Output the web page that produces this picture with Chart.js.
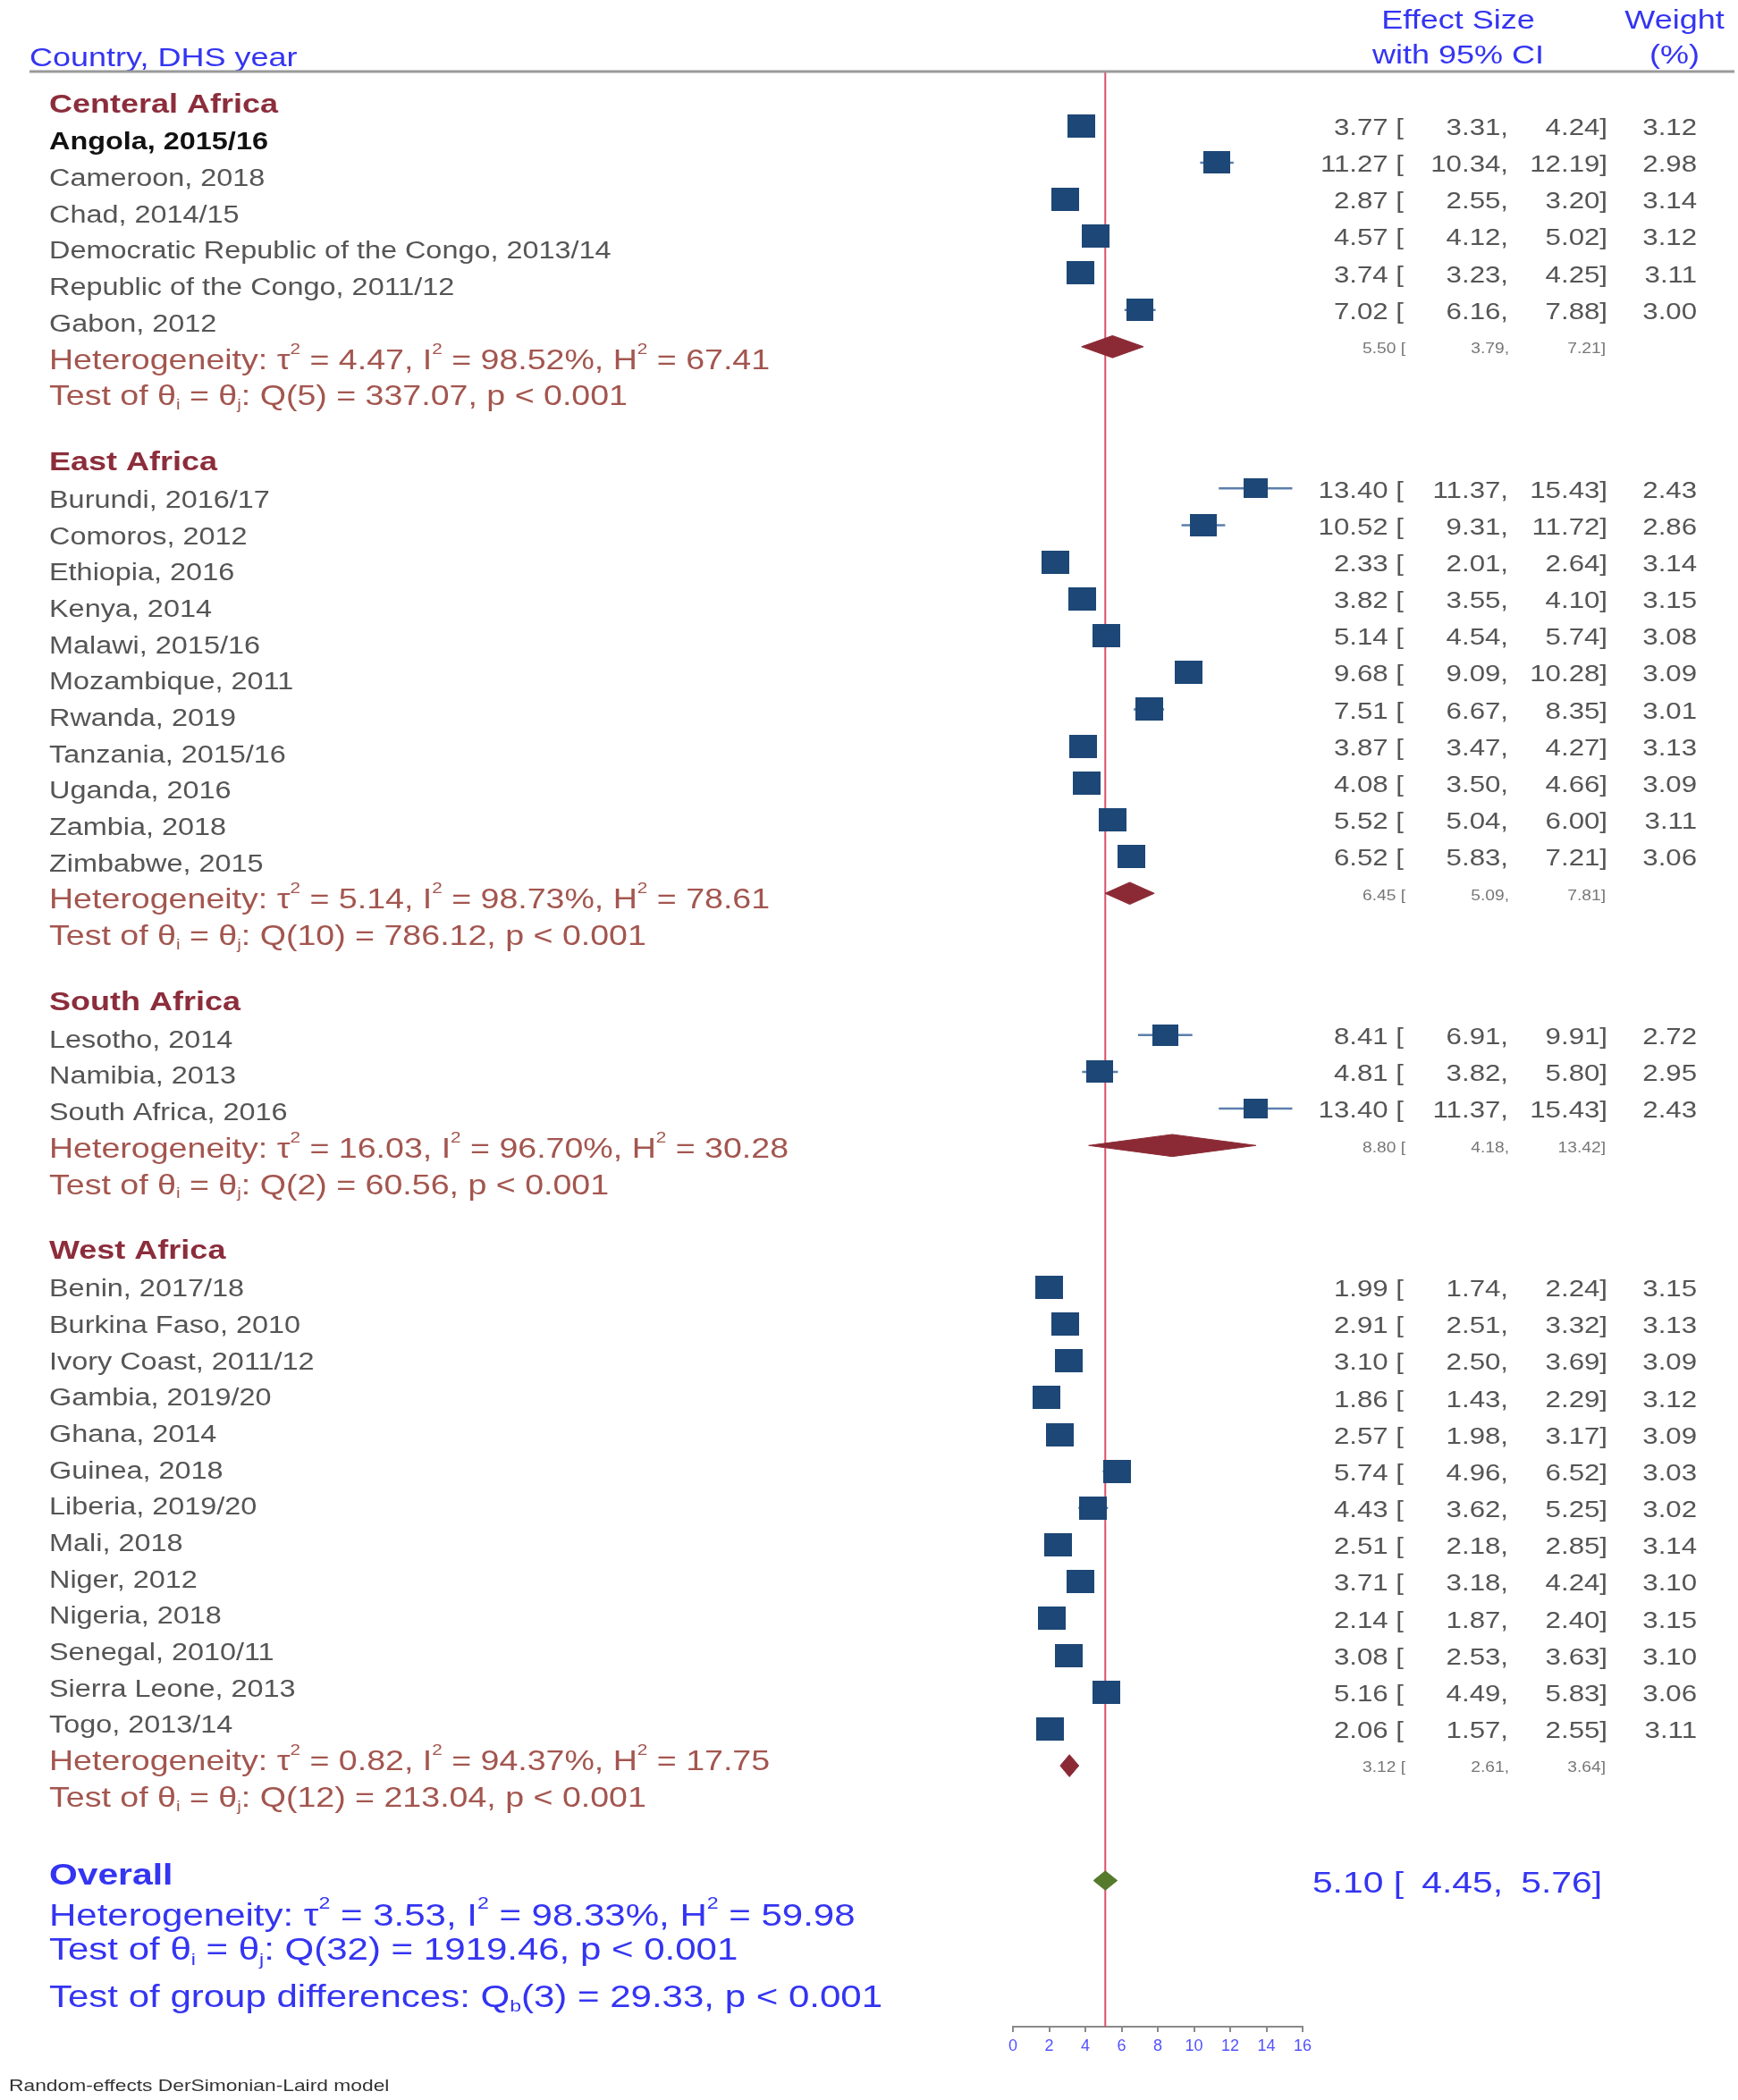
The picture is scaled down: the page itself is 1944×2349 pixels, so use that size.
<!DOCTYPE html>
<html><head><meta charset="utf-8">
<script src="https://cdn.jsdelivr.net/npm/chart.js@4.4.1/dist/chart.umd.min.js"></script>
<style>html,body{margin:0;padding:0;background:#fff;overflow:hidden}canvas{display:block}</style>
</head><body>
<canvas id="c" width="1944" height="2349" style="width:1944px;height:2349px"></canvas>
<script>
// ---------------- data ----------------
const groupNames = ['Centeral Africa', 'East Africa', 'South Africa', 'West Africa'];

const centralLabels = ['Angola, 2015/16', 'Cameroon, 2018', 'Chad, 2014/15', 'Democratic Republic of the Congo, 2013/14', 'Republic of the Congo, 2011/12', 'Gabon, 2012'];
const centralES = [3.77, 11.27, 2.87, 4.57, 3.74, 7.02];
const centralLo = [3.31, 10.34, 2.55, 4.12, 3.23, 6.16];
const centralHi = [4.24, 12.19, 3.20, 5.02, 4.25, 7.88];
const centralW  = [3.12, 2.98, 3.14, 3.12, 3.11, 3.00];

const eastLabels = ['Burundi, 2016/17', 'Comoros, 2012', 'Ethiopia, 2016', 'Kenya, 2014', 'Malawi, 2015/16', 'Mozambique, 2011', 'Rwanda, 2019', 'Tanzania, 2015/16', 'Uganda, 2016', 'Zambia, 2018', 'Zimbabwe, 2015'];
const eastES = [13.40, 10.52, 2.33, 3.82, 5.14, 9.68, 7.51, 3.87, 4.08, 5.52, 6.52];
const eastLo = [11.37, 9.31, 2.01, 3.55, 4.54, 9.09, 6.67, 3.47, 3.50, 5.04, 5.83];
const eastHi = [15.43, 11.72, 2.64, 4.10, 5.74, 10.28, 8.35, 4.27, 4.66, 6.00, 7.21];
const eastW  = [2.43, 2.86, 3.14, 3.15, 3.08, 3.09, 3.01, 3.13, 3.09, 3.11, 3.06];

const southLabels = ['Lesotho, 2014', 'Namibia, 2013', 'South Africa, 2016'];
const southES = [8.41, 4.81, 13.40];
const southLo = [6.91, 3.82, 11.37];
const southHi = [9.91, 5.80, 15.43];
const southW  = [2.72, 2.95, 2.43];

const westLabels = ['Benin, 2017/18', 'Burkina Faso, 2010', 'Ivory Coast, 2011/12', 'Gambia, 2019/20', 'Ghana, 2014', 'Guinea, 2018', 'Liberia, 2019/20', 'Mali, 2018', 'Niger, 2012', 'Nigeria, 2018', 'Senegal, 2010/11', 'Sierra Leone, 2013', 'Togo, 2013/14'];
const westES = [1.99, 2.91, 3.10, 1.86, 2.57, 5.74, 4.43, 2.51, 3.71, 2.14, 3.08, 5.16, 2.06];
const westLo = [1.74, 2.51, 2.50, 1.43, 1.98, 4.96, 3.62, 2.18, 3.18, 1.87, 2.53, 4.49, 1.57];
const westHi = [2.24, 3.32, 3.69, 2.29, 3.17, 6.52, 5.25, 2.85, 4.24, 2.40, 3.63, 5.83, 2.55];
const westW  = [3.15, 3.13, 3.09, 3.12, 3.09, 3.03, 3.02, 3.14, 3.10, 3.15, 3.10, 3.06, 3.11];

const groupES   = [5.50, 6.45, 8.80, 3.12];
const groupLo   = [3.79, 5.09, 4.18, 2.61];
const groupHi   = [7.21, 7.81, 13.42, 3.64];
const groupTau2 = [4.47, 5.14, 16.03, 0.82];
const groupI2   = [98.52, 98.73, 96.70, 94.37];
const groupH2   = [67.41, 78.61, 30.28, 17.75];
const groupQdf  = [5, 10, 2, 12];
const groupQ    = [337.07, 786.12, 60.56, 213.04];

const overallES = 5.10, overallLo = 4.45, overallHi = 5.76;
const overallTau2 = 3.53, overallI2 = 98.33, overallH2 = 59.98;
const overallQdf = 32, overallQ = 1919.46;
const diffDf = 3, diffQ = 29.33;

const xTickMin = 0, xTickMax = 16, xTickStep = 2;

// ---------------- build ----------------
const groups = [
  {labels: centralLabels, es: centralES, lo: centralLo, hi: centralHi, w: centralW},
  {labels: eastLabels, es: eastES, lo: eastLo, hi: eastHi, w: eastW},
  {labels: southLabels, es: southES, lo: southLo, hi: southHi, w: southW},
  {labels: westLabels, es: westES, lo: westLo, hi: westHi, w: westW}
];
// row layout (row units)
let u = -1.05;
groups.forEach((g, gi) => {
  g.name = groupNames[gi];
  g.headerU = u; u += 1.05;
  g.rowU = g.labels.map((_, i) => u + i);
  u += g.labels.length;
  g.diamondU = u; u += 1;
  g.testU = u; u += 1.8;
});
const overallU = groups[3].testU + 2.12;
const overallHetU = overallU + 1.13;
const overallTestU = overallHetU + 0.95;
const diffU = overallTestU + 1.29;
const Y_MIN = -1.476, Y_MAX = 51.64;

const f2 = v => v.toFixed(2);
function squareImg(w) {
  const W = Math.round(17.6 * Math.sqrt(w)), H = Math.round(W * 0.83);
  const c = document.createElement('canvas'); c.width = W; c.height = H;
  const g = c.getContext('2d'); g.fillStyle = '#1d4776'; g.fillRect(0, 0, W, H);
  return c;
}

const ciData = [], sqData = [], sqImgs = [];
groups.forEach(g => {
  g.es.forEach((v, i) => {
    ciData.push({x: g.lo[i], y: g.rowU[i]}, {x: g.hi[i], y: g.rowU[i]}, {x: g.hi[i], y: null});
    sqData.push({x: v, y: g.rowU[i]});
    sqImgs.push(squareImg(g.w[i]));
  });
});
function diamond(es, lo, hi, yU, h) {
  return [{x: lo, y: yU}, {x: es, y: yU - h}, {x: hi, y: yU}, {x: es, y: yU + h}, {x: lo, y: yU}];
}
const datasets = [];
datasets.push({label: 'ref', data: [{x: overallES, y: Y_MIN}, {x: overallES, y: Y_MAX}], borderColor: '#d9506b', borderWidth: 2, pointRadius: 0, order: 10, clip: false});
datasets.push({label: 'ci', data: ciData, borderColor: '#5b7fad', borderWidth: 2.5, pointRadius: 0, spanGaps: false, order: 2});
datasets.push({label: 'es', data: sqData, showLine: false, pointStyle: ctx => sqImgs[ctx.dataIndex], pointRadius: 14, order: 1});
groups.forEach((g, gi) => {
  datasets.push({label: 'sub' + gi, data: diamond(groupES[gi], groupLo[gi], groupHi[gi], g.diamondU, 0.3), borderColor: '#8b2a35', backgroundColor: '#8b2a35', borderWidth: 1, pointRadius: 0, fill: 'shape', order: 1});
});
datasets.push({label: 'overall', data: diamond(overallES, overallLo, overallHi, overallU, 0.26), borderColor: '#557a2c', backgroundColor: '#557a2c', borderWidth: 1, pointRadius: 0, fill: 'shape', order: 1});

// ---------------- text helpers ----------------
const FAM = '"Liberation Sans", Arial, Helvetica, sans-serif';
const SX = 1.2;
function parts(str) { return str.split(/(\^\{[^}]*\}|_\{[^}]*\})/).filter(s => s.length); }
function rich(ctx, str, x, y, size, color, bold, align) {
  const ps = parts(str).map(p => {
    if (p.startsWith('^{')) return {t: p.slice(2, -1), fs: size * 0.55, dy: -size * 0.42};
    if (p.startsWith('_{')) return {t: p.slice(2, -1), fs: size * 0.55, dy: size * 0.28};
    return {t: p, fs: size, dy: 0};
  });
  ctx.save();
  let total = 0;
  ps.forEach(p => { ctx.font = (bold ? 'bold ' : '') + p.fs + 'px ' + FAM; p.w = ctx.measureText(p.t).width; total += p.w; });
  ctx.translate(x, y); ctx.scale(SX, 1);
  ctx.fillStyle = color; ctx.textBaseline = 'middle'; ctx.textAlign = 'left';
  let cx = align === 'right' ? -total : (align === 'center' ? -total / 2 : 0);
  ps.forEach(p => { ctx.font = (bold ? 'bold ' : '') + p.fs + 'px ' + FAM; ctx.fillText(p.t, cx, p.dy); cx += p.w; });
  ctx.restore();
}

const BLUE = '#3434f2', HEADRED = '#8c2d3b', HETRED = '#a3564f', GRAY = '#555555';
const textPlugin = {
  id: 'forestText',
  afterDraw(chart) {
    const ctx = chart.ctx, ys = chart.scales.y;
    const py = v => ys.getPixelForValue(v) + 3;
    const ly = v => 21 + 0.9875 * ys.getPixelForValue(v);
    // header
    rich(ctx, 'Country, DHS year', 33, 66, 30, BLUE, false, 'left');
    rich(ctx, 'Effect Size', 1631, 24, 30, BLUE, false, 'center');
    rich(ctx, 'with 95% CI', 1631, 63, 30, BLUE, false, 'center');
    rich(ctx, 'Weight', 1873, 24, 30, BLUE, false, 'center');
    rich(ctx, '(%)', 1873, 63, 30, BLUE, false, 'center');
    ctx.save(); ctx.strokeStyle = '#9a9a9a'; ctx.lineWidth = 3;
    ctx.beginPath(); ctx.moveTo(33, 80); ctx.lineTo(1940, 80); ctx.stroke(); ctx.restore();

    groups.forEach((g, gi) => {
      rich(ctx, g.name, 55, ly(g.headerU), 30, HEADRED, true, 'left');
      g.labels.forEach((lab, i) => {
        const bold = gi === 0 && i === 0;
        rich(ctx, lab, 55, ly(g.rowU[i]), 27, bold ? '#111' : GRAY, bold, 'left');
        const y = py(g.rowU[i]);
        rich(ctx, f2(g.es[i]) + ' [', 1570, y, 26, GRAY, false, 'right');
        rich(ctx, f2(g.lo[i]) + ',', 1687, y, 26, GRAY, false, 'right');
        rich(ctx, f2(g.hi[i]) + ']', 1798, y, 26, GRAY, false, 'right');
        rich(ctx, f2(g.w[i]), 1898, y, 26, GRAY, false, 'right');
      });
      const yd = py(g.diamondU);
      rich(ctx, f2(groupES[gi]) + ' [', 1572, yd, 16, '#777', false, 'right');
      rich(ctx, f2(groupLo[gi]) + ',', 1688, yd, 16, '#777', false, 'right');
      rich(ctx, f2(groupHi[gi]) + ']', 1796, yd, 16, '#777', false, 'right');
      rich(ctx, 'Heterogeneity: τ^{2} = ' + f2(groupTau2[gi]) + ', I^{2} = ' + f2(groupI2[gi]) + '%, H^{2} = ' + f2(groupH2[gi]), 55, ly(g.diamondU), 31.3, HETRED, false, 'left');
      rich(ctx, 'Test of θ_{i} = θ_{j}: Q(' + groupQdf[gi] + ') = ' + f2(groupQ[gi]) + ', p < 0.001', 55, ly(g.testU), 31.3, HETRED, false, 'left');
    });
    rich(ctx, 'Overall', 55, ly(overallU), 34, BLUE, true, 'left');
    const yo = py(overallU) + 1;
    rich(ctx, f2(overallES) + ' [', 1570, yo, 34, BLUE, false, 'right');
    rich(ctx, f2(overallLo) + ',', 1681, yo, 34, BLUE, false, 'right');
    rich(ctx, f2(overallHi) + ']', 1792, yo, 34, BLUE, false, 'right');
    rich(ctx, 'Heterogeneity: τ^{2} = ' + f2(overallTau2) + ', I^{2} = ' + f2(overallI2) + '%, H^{2} = ' + f2(overallH2), 55, ly(overallHetU), 35, BLUE, false, 'left');
    rich(ctx, 'Test of θ_{i} = θ_{j}: Q(' + overallQdf + ') = ' + f2(overallQ) + ', p < 0.001', 55, ly(overallTestU), 35, BLUE, false, 'left');
    rich(ctx, 'Test of group differences: Q_{b}(' + diffDf + ') = ' + f2(diffQ) + ', p < 0.001', 55, ly(diffU), 35, BLUE, false, 'left');
    rich(ctx, 'Random-effects DerSimonian-Laird model', 10, 2334, 19, '#333', false, 'left');
  }
};

new Chart(document.getElementById('c'), {
  type: 'line',
  data: {datasets},
  options: {
    responsive: false, animation: false, devicePixelRatio: 1,
    layout: {padding: {left: 1133, right: 487, top: 80, bottom: 41}},
    plugins: {legend: {display: false}, tooltip: {enabled: false}},
    elements: {line: {tension: 0}},
    scales: {
      x: {
        type: 'linear', position: 'bottom', min: xTickMin, max: xTickMax,
        ticks: {stepSize: xTickStep, color: '#5252ff', font: {family: FAM, size: 18}, padding: 5, maxRotation: 0, autoSkip: false},
        grid: {drawOnChartArea: false, drawTicks: true, tickLength: 6, color: '#8a8a8a', lineWidth: 2},
        border: {display: true, color: '#8a8a8a', width: 2},
        afterFit: s => { s.height = 41; }
      },
      y: {type: 'linear', min: Y_MIN, max: Y_MAX, reverse: true, display: false}
    }
  },
  plugins: [textPlugin]
});
</script>
</body></html>
